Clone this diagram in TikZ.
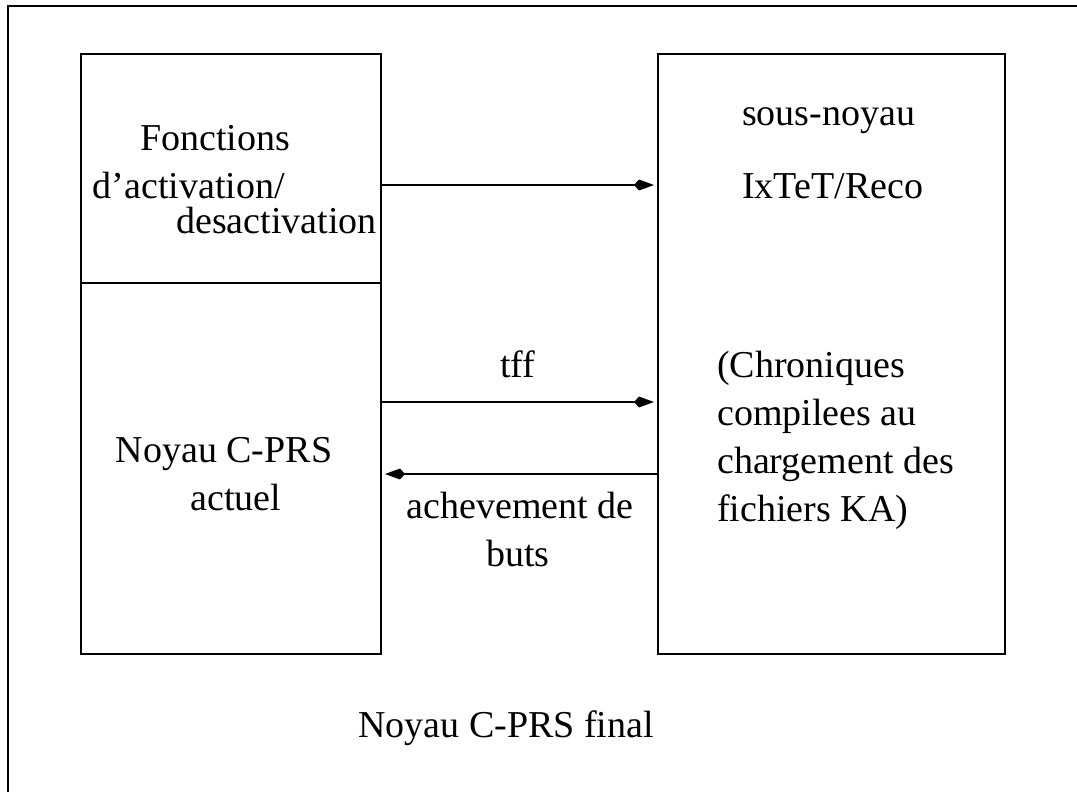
\documentclass[tikz,border=0pt]{standalone}
\usepackage{fontspec}
\setmainfont{Liberation Serif}
\usetikzlibrary{arrows.meta}

\tikzset{
  box/.style={draw, line width=2pt, inner sep=0pt, anchor=north west},
  txt/.style={inner sep=0pt, font=\fontsize{38}{46}\selectfont},
  arr/.style={line width=1.6pt, -{Kite[length=20pt,width=11pt,inset=5pt]}, shorten >=3pt},
}

\begin{document}
\begin{tikzpicture}[x=1pt, y=-1pt]
  \useasboundingbox (0,0) rectangle (1077,792);

  % outer frame (only its left and top sides lie inside the page)
  \draw[line width=2pt] (8,800) -- (8,6) -- (1090,6);

  % the three blocks
  \node[box, minimum width=300pt, minimum height=229pt] (act) at (80,53) {};
  \node[box, minimum width=300pt, minimum height=371pt] (noyau) at (80,282) {};
  \node[box, minimum width=347pt, minimum height=600pt] (ixtet) at (657,53) {};

  % heights of the connectors
  \coordinate (h1) at (0,185);
  \coordinate (h2) at (0,402);
  \coordinate (h3) at (0,474);

  % connectors
  \draw[arr] (act.east |- h1) -- (ixtet.west |- h1);
  \draw[arr] (noyau.east |- h2) -- (ixtet.west |- h2);
  \draw[arr] (ixtet.west |- h3) -- (noyau.east |- h3);

  % text of the activation block
  \node[txt, anchor=base west] (t1) at (140,150) {Fonctions};
  \node[txt, anchor=base east] (t2) at (285,198) {d’activation/};
  \node[txt, anchor=base east] (t3) at (377,233) {desactivation};

  % text of the current kernel
  \node[txt, anchor=base] (t4) at (224,462) {Noyau C-PRS};
  \node[txt, anchor=base] (t5) at (236,510) {actuel};

  % text of the IxTeT block
  \node[txt, anchor=base west] (t6) at (742,125) {sous-noyau};
  \node[txt, anchor=base west] (t7) at (742,198) {IxTeT/Reco};
  \node[txt, anchor=base west] (t8) at (717,377) {(Chroniques};
  \node[txt, anchor=base west] (t9) at (717,425) {compilees au};
  \node[txt, anchor=base west] (t10) at (717,473) {chargement des};
  \node[txt, anchor=base west] (t11) at (717,521) {fichiers KA)};

  % connector labels
  \node[txt, anchor=base] (l1) at (518,377) {tff};
  \node[txt, anchor=base] (l2) at (520,518) {achevement de};
  \node[txt, anchor=base] (l3) at (518,566) {buts};

  % caption
  \node[txt, anchor=base west] (cap) at (358,737) {Noyau C-PRS final};
\end{tikzpicture}
\end{document}
